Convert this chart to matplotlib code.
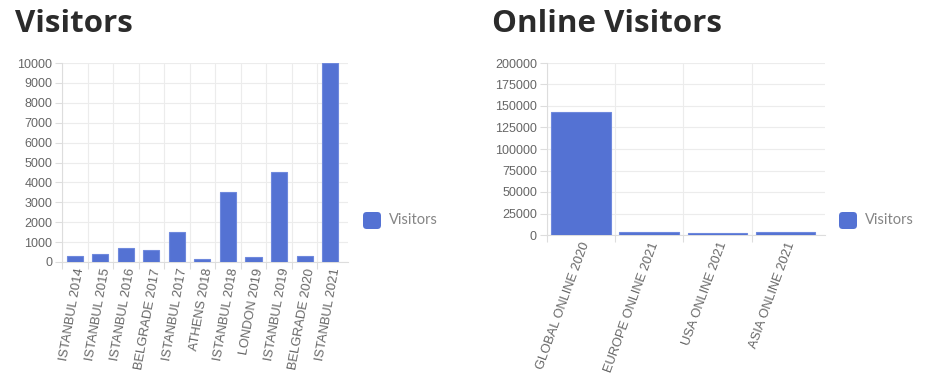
import numpy as np
from matplotlib import pyplot as plt
from matplotlib.patches import FancyBboxPatch

events = ["ISTANBUL 2014", "ISTANBUL 2015", "ISTANBUL 2016", "BELGRADE 2017",
          "ISTANBUL 2017", "ATHENS 2018", "ISTANBUL 2018", "LONDON 2019",
          "ISTANBUL 2019", "BELGRADE 2020", "ISTANBUL 2021"]
visitors = [300, 400, 700, 600, 1500, 140, 3500, 250, 4500, 300, 10000]

online_events = ["GLOBAL ONLINE 2020", "EUROPE ONLINE 2021", "USA ONLINE 2021", "ASIA ONLINE 2021"]
online_visitors = [143000, 3200, 2000, 3500]

blue = "#5472d3"
grid_c = "#ececec"
tick_c = "#666666"

fig = plt.figure(figsize=(9.27, 3.84), dpi=100)


def draw(ax, labels, values, ymax, step, width, rot, extra):
    x = np.arange(len(labels))
    ax.bar(x, values, width=width, color=blue, edgecolor="#6f89dd", linewidth=0.8, zorder=3)
    ax.set_xlim(-0.5, len(labels) - 0.5 + extra)
    ax.set_ylim(0, ymax)
    ax.set_yticks(np.arange(0, ymax + 1, step))
    ax.set_xticks(x)
    ax.set_xticklabels(labels, rotation=rot, ha="right", va="top", rotation_mode="anchor",
                       family="Liberation Sans", fontsize=9.3, color=tick_c)
    for t in ax.get_yticklabels():
        t.set_family("Liberation Sans")
        t.set_fontsize(9)
        t.set_color(tick_c)
    ax.set_xticks(np.arange(len(labels)) - 0.5, minor=True)
    ax.tick_params(axis="x", which="major", length=0, pad=4)
    ax.tick_params(axis="x", which="minor", length=5, color="#dddddd", width=0.8)
    ax.tick_params(axis="y", length=5, color="#dddddd", width=0.8, pad=2)
    ax.grid(True, axis="y", color=grid_c, linewidth=0.8, zorder=0)
    ax.grid(True, axis="x", which="minor", color=grid_c, linewidth=0.8, zorder=0)
    for s in ["top", "right"]:
        ax.spines[s].set_visible(False)
    for s in ["left", "bottom"]:
        ax.spines[s].set_color("#dddddd")
        ax.spines[s].set_linewidth(0.8)


def legend(x, y):
    fig.patches.append(FancyBboxPatch((x / 927, 1 - (y + 17) / 384), 18 / 927, 17 / 384,
                                      boxstyle="round,pad=0,rounding_size=0.004",
                                      transform=fig.transFigure, facecolor=blue,
                                      edgecolor="none", mutation_aspect=927 / 384))
    fig.text((x + 26) / 927, 1 - (y + 8) / 384, "Visitors", family="Lato", fontsize=10.5,
             color="#858585", va="center", ha="left")


ax1 = fig.add_axes([62 / 927, 122 / 384, 286 / 927, 199 / 384])
draw(ax1, events, visitors, 10000, 1000, 0.63, 80, 0.2)

ax2 = fig.add_axes([546.7 / 927, 149 / 384, 278 / 927, 172 / 384])
draw(ax2, online_events, online_visitors, 200000, 25000, 0.87, 70, 0.07)

legend(363, 212)
legend(839, 212)

fig.text(15 / 927, 1 - 32 / 384, "Visitors", family="Open Sans", fontweight="bold",
         fontsize=22.5, color="#2b2b2b", ha="left", va="baseline")
fig.text(492 / 927, 1 - 32 / 384, "Online Visitors", family="Open Sans", fontweight="bold",
         fontsize=22.5, color="#2b2b2b", ha="left", va="baseline")

fig.savefig("out.png", dpi=100)
